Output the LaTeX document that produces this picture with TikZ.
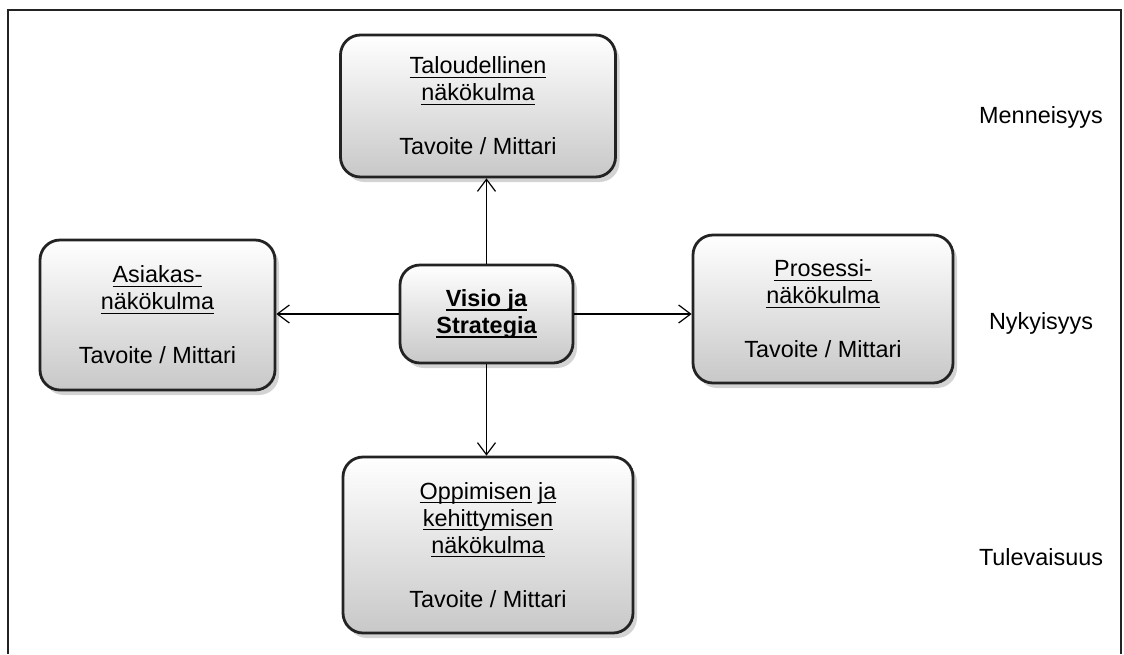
\documentclass[tikz,border=0pt]{standalone}
\usepackage{fontspec}
\setmainfont{Liberation Sans}
\definecolor{FrameGray}{RGB}{35,35,35}
\definecolor{BoxEdge}{RGB}{35,35,35}
\definecolor{ShadeGray}{RGB}{200,200,200}
\usepackage{tikz}
\usetikzlibrary{arrows.meta, shadows}
\newcommand{\boxfont}{\fontsize{11.7pt}{13.5pt}\selectfont}
% underline at a fixed depth, through the descenders
\newsavebox{\ulbox}
\newcommand{\fixul}[1]{\sbox{\ulbox}{#1}\rlap{\usebox{\ulbox}}\rule[-2pt]{\wd\ulbox}{0.55pt}}

\begin{document}
\begin{tikzpicture}[x=0.5pt, y=-0.5pt,
  panel/.style={
    draw=BoxEdge, line width=1.4pt, rounded corners=10pt,
    top color=white, bottom color=ShadeGray,
    drop shadow={shadow xshift=2pt, shadow yshift=-2.5pt, opacity=0.35},
    align=center, font=\boxfont, inner sep=2pt
  },
  timelabel/.style={font=\boxfont, inner sep=1pt},
  link/.style={-{Straight Barb[length=6pt, width=9pt]}, line width=0.6pt, black}
]

  % Page size and open frame
  \useasboundingbox (0,0) rectangle (1124,654);
  \draw[FrameGray, line width=0.9pt]
        (8,654) -- (8,10) -- (1121,10) -- (1121,654);

  % Perspective boxes
  \node[panel, minimum width=137.5pt, minimum height=71pt]
        (finance) at (478,106)
        {\fixul{Taloudellinen}\\ \fixul{näkökulma}\\[13.5pt] Tavoite / Mittari};

  \node[panel, minimum width=117.5pt, minimum height=75pt]
        (customer) at (157.5,315)
        {\fixul{Asiakas-}\\ \fixul{näkökulma}\\[13.5pt] Tavoite / Mittari};

  \node[panel, minimum width=130pt, minimum height=74pt]
        (process) at (823,309)
        {\fixul{Prosessi-}\\ \fixul{näkökulma}\\[13.5pt] Tavoite / Mittari};

  \node[panel, minimum width=145pt, minimum height=88pt]
        (learning) at (488,545)
        {\fixul{Oppimisen} \fixul{ja}\\ \fixul{kehittymisen}\\
         \fixul{näkökulma}\\[13.5pt] Tavoite / Mittari};

  % Centre box
  \node[panel, minimum width=86.5pt, minimum height=49pt]
        (vision) at (486.5,314)
        {\bfseries\fixul{Visio ja}\\ \bfseries\fixul{Strategia}};

  % Arrows out of the centre
  \draw[link] (vision.north) -- (vision.north |- finance.south);
  \draw[link] (vision.west)  -- (vision.west -| customer.east);
  \draw[link] (vision.east)  -- (vision.east -| process.west);
  \draw[link] (vision.south) -- (vision.south |- learning.north);

  % Time labels
  \node[timelabel] (past)    at (1041,117) {Menneisyys};
  \node[timelabel] (present) at (1041,323) {Nykyisyys};
  \node[timelabel] (future)  at (1041,557) {Tulevaisuus};

\end{tikzpicture}
\end{document}
